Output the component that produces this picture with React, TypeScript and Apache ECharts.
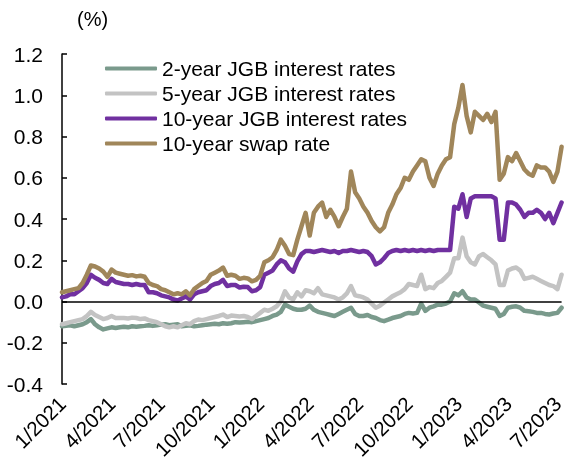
import React, { useEffect, useRef } from "react";
import * as echarts from "echarts";

// 4 observation dates per month (1st, 8th, 16th, 23rd), Jan 2021 – early Jul 2023
const OBS_DAYS = [1, 8, 16, 23];
const categories: string[] = [];
for (let m = 0; m < 31; m++) {
  const y = 2021 + Math.floor(m / 12);
  const mo = (m % 12) + 1;
  for (const d of OBS_DAYS) {
    if (categories.length < 122) categories.push(`${y}-${String(mo).padStart(2, "0")}-${String(d).padStart(2, "0")}`);
  }
}

const tickLabels = ["1/2021", "4/2021", "7/2021", "10/2021", "1/2022", "4/2022", "7/2022", "10/2022", "1/2023", "4/2023", "7/2023"];
const yTicks = [-0.4, 1.2, 0.2];

const jgb2 = [
  -0.12, -0.118, -0.115, -0.12, -0.115, -0.11, -0.1, -0.085, -0.11, -0.125, -0.135, -0.13,
  -0.125, -0.128, -0.125, -0.122, -0.125, -0.12, -0.122, -0.12, -0.118, -0.115, -0.118, -0.115,
  -0.112, -0.11, -0.115, -0.112, -0.11, -0.12, -0.118, -0.115, -0.12, -0.118, -0.115, -0.112,
  -0.11, -0.108, -0.11, -0.105, -0.108, -0.105, -0.1, -0.102, -0.1, -0.098, -0.1, -0.095,
  -0.09, -0.085, -0.08, -0.07, -0.063, -0.05, -0.015, -0.025, -0.035, -0.04, -0.04, -0.035,
  -0.02, -0.04, -0.05, -0.055, -0.06, -0.065, -0.07, -0.06, -0.05, -0.04, -0.03, -0.06,
  -0.07, -0.07, -0.065, -0.075, -0.08, -0.09, -0.095, -0.088, -0.08, -0.075, -0.07, -0.06,
  -0.055, -0.058, -0.055, -0.01, -0.045, -0.03, -0.023, -0.015, -0.015, -0.01, 0.0, 0.04,
  0.03, 0.05, 0.02, 0.01, 0.01, -0.005, -0.02, -0.025, -0.03, -0.035, -0.07, -0.06,
  -0.03, -0.025, -0.023, -0.03, -0.045, -0.047, -0.05, -0.055, -0.055, -0.06, -0.063, -0.058,
  -0.055, -0.03,
];

const jgb5 = [
  -0.11, -0.105, -0.1, -0.095, -0.09, -0.085, -0.07, -0.05, -0.065, -0.075, -0.085, -0.08,
  -0.07, -0.08, -0.08, -0.08, -0.082, -0.078, -0.08, -0.085, -0.082, -0.09, -0.095, -0.1,
  -0.11, -0.12, -0.125, -0.12, -0.125, -0.115, -0.105, -0.11, -0.095, -0.087, -0.09, -0.085,
  -0.08, -0.075, -0.07, -0.063, -0.075, -0.068, -0.07, -0.072, -0.07, -0.075, -0.085, -0.07,
  -0.055, -0.04, -0.045, -0.035, -0.023, 0.0, 0.05, 0.02, 0.01, 0.045, 0.025, 0.055,
  0.05, 0.04, 0.065, 0.035, 0.03, 0.025, 0.02, 0.01, 0.02, 0.04, 0.075, 0.03,
  0.026, 0.02, 0.01, -0.01, -0.03, -0.02, -0.005, 0.01, 0.025, 0.035, 0.045, 0.06,
  0.085, 0.08, 0.075, 0.13, 0.06, 0.07, 0.065, 0.09, 0.1, 0.12, 0.14, 0.21,
  0.21, 0.31, 0.22, 0.19, 0.18, 0.22, 0.23, 0.215, 0.2, 0.18, 0.08, 0.08,
  0.15, 0.16, 0.165, 0.15, 0.11, 0.115, 0.12, 0.11, 0.1, 0.09, 0.08, 0.075,
  0.06, 0.13,
];

const jgb10 = [
  0.02, 0.025, 0.035, 0.035, 0.05, 0.065, 0.09, 0.13, 0.115, 0.105, 0.09, 0.085,
  0.11, 0.095, 0.09, 0.085, 0.085, 0.08, 0.085, 0.08, 0.08, 0.045, 0.045, 0.04,
  0.03, 0.025, 0.02, 0.01, 0.005, 0.015, 0.025, 0.01, 0.035, 0.045, 0.05, 0.055,
  0.075, 0.085, 0.09, 0.105, 0.075, 0.08, 0.08, 0.068, 0.072, 0.07, 0.05, 0.055,
  0.07, 0.13, 0.14, 0.15, 0.18, 0.2, 0.19, 0.16, 0.145, 0.195, 0.23, 0.245,
  0.245, 0.24, 0.245, 0.25, 0.245, 0.24, 0.245, 0.235, 0.245, 0.245, 0.25, 0.245,
  0.24, 0.245, 0.24, 0.22, 0.18, 0.19, 0.21, 0.235, 0.245, 0.25, 0.245, 0.25,
  0.245, 0.25, 0.245, 0.25, 0.245, 0.25, 0.245, 0.25, 0.25, 0.25, 0.25, 0.46,
  0.45, 0.52, 0.41, 0.5, 0.51, 0.51, 0.51, 0.51, 0.51, 0.5, 0.3, 0.3,
  0.48, 0.48, 0.47, 0.445, 0.41, 0.43, 0.43, 0.445, 0.43, 0.4, 0.43, 0.38,
  0.43, 0.48,
];

const swap10 = [
  0.045, 0.05, 0.055, 0.06, 0.065, 0.09, 0.13, 0.175, 0.17, 0.16, 0.145, 0.12,
  0.155, 0.14, 0.135, 0.13, 0.125, 0.128, 0.122, 0.125, 0.12, 0.09, 0.08, 0.075,
  0.06, 0.055, 0.045, 0.035, 0.04, 0.035, 0.05, 0.03, 0.06, 0.075, 0.09, 0.1,
  0.13, 0.14, 0.15, 0.165, 0.125, 0.13, 0.125, 0.11, 0.115, 0.112, 0.098, 0.105,
  0.125, 0.19, 0.2, 0.215, 0.25, 0.3, 0.27, 0.23, 0.225, 0.3, 0.365, 0.43,
  0.32, 0.43, 0.46, 0.48, 0.41, 0.445, 0.41, 0.365, 0.41, 0.45, 0.63, 0.53,
  0.5, 0.46, 0.43, 0.39, 0.36, 0.34, 0.36, 0.43, 0.47, 0.52, 0.55, 0.6,
  0.59, 0.63, 0.66, 0.69, 0.68, 0.6, 0.56, 0.62, 0.66, 0.69, 0.7, 0.86,
  0.94, 1.05, 0.9, 0.82, 0.92, 0.9, 0.88, 0.91, 0.87, 0.92, 0.59, 0.62,
  0.7, 0.68, 0.72, 0.68, 0.64, 0.62, 0.61, 0.66, 0.65, 0.65, 0.63, 0.58,
  0.63, 0.75,
];

const seriesNames = ["2-year JGB interest rates", "5-year JGB interest rates", "10-year JGB interest rates", "10-year swap rate"];
const seriesColors = ["#7a9a8c", "#c3c3c3", "#7030a0", "#a0865a"];

const FONT = "'Liberation Sans', Arial, sans-serif";

export default function App() {
  const ref = useRef<HTMLDivElement>(null);
  useEffect(() => {
    if (!ref.current) return;
    const chart = echarts.init(ref.current, null, { renderer: "svg" });
    const values = [jgb2, jgb5, jgb10, swap10];
    chart.setOption({
      animation: false,
      textStyle: { fontFamily: FONT },
      grid: { left: 62, right: 1, top: 54, bottom: 77, containLabel: false },
      graphic: [
        { type: "text", left: 77, top: 9, style: { text: "(%)", fontSize: 20, fontFamily: FONT, fill: "#000" } },
      ],
      legend: {
        orient: "vertical",
        left: 105,
        top: 58,
        padding: 0,
        itemWidth: 52,
        itemHeight: 4,
        itemGap: 4,
        icon: "roundRect",
        textStyle: { fontSize: 21, color: "#000", fontFamily: FONT, lineHeight: 21 },
        data: seriesNames,
      },
      xAxis: {
        type: "category",
        data: categories,
        boundaryGap: false,
        axisLine: { show: false },
        axisTick: { show: false },
        splitLine: { show: false },
        axisLabel: {
          interval: (idx: number) => idx % 12 === 0,
          formatter: (_v: string, idx: number) => tickLabels[Math.round(idx / 12)] ?? "",
          rotate: 45,
          fontSize: 20.5,
          color: "#000",
          fontFamily: FONT,
          margin: 16,
        },
      },
      yAxis: {
        type: "value",
        min: yTicks[0],
        max: yTicks[1],
        interval: yTicks[2],
        axisLine: { show: true, lineStyle: { color: "#000", width: 1.5 } },
        axisTick: { show: true, inside: true, length: 5, lineStyle: { color: "#000", width: 1.5 } },
        splitLine: { show: false },
        axisLabel: {
          formatter: (v: number) => v.toFixed(1),
          fontSize: 21,
          color: "#000",
          fontFamily: FONT,
          margin: 19,
        },
      },
      series: seriesNames.map((name, k) => ({
        name,
        type: "line",
        data: values[k],
        symbol: "none",
        showSymbol: false,
        lineStyle: { color: seriesColors[k], width: 4.5, cap: "round", join: "round" },
        itemStyle: { color: seriesColors[k] },
        z: 2 + k,
        markLine:
          k === 0
            ? {
                silent: true,
                symbol: ["none", "none"],
                label: { show: false },
                lineStyle: { color: "#000", width: 1.5, type: "solid" },
                data: [{ yAxis: 0 }],
              }
            : undefined,
      })),
    });
    return () => chart.dispose();
  }, []);
  return <div ref={ref} style={{ position: "fixed", left: 0, top: 0, width: 567, height: 462 }} />;
}
